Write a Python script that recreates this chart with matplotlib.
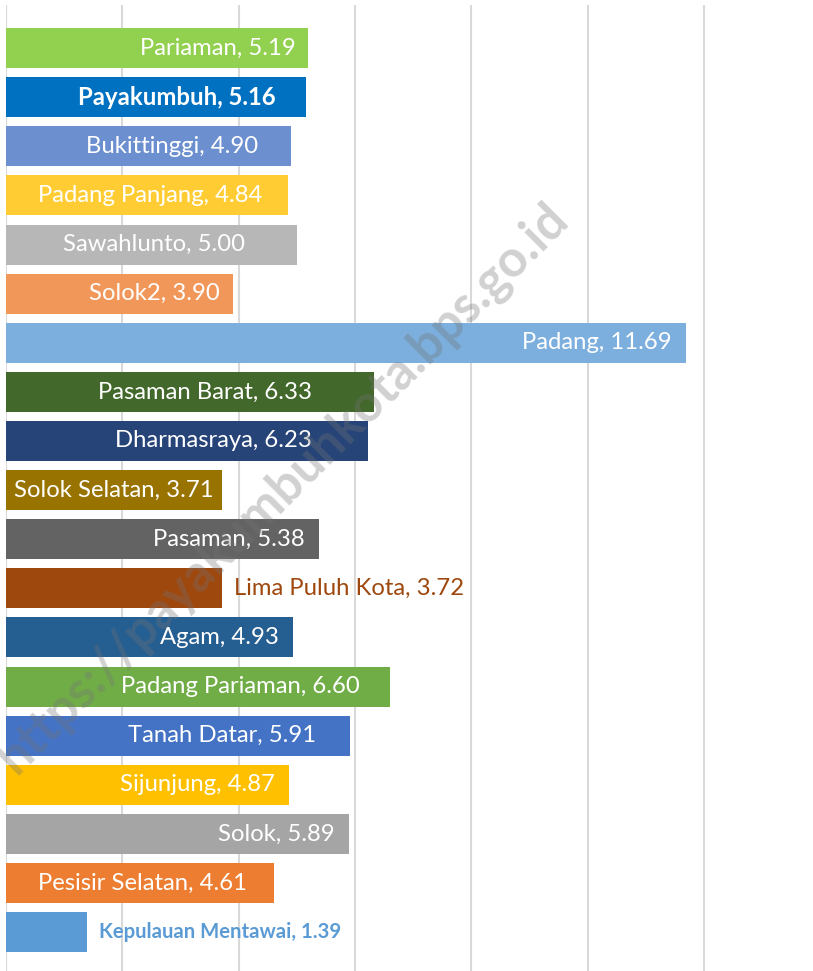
import matplotlib.pyplot as plt

# data, top to bottom as shown
regions = ["Pariaman", "Payakumbuh", "Bukittinggi", "Padang Panjang", "Sawahlunto",
           "Solok2", "Padang", "Pasaman Barat", "Dharmasraya", "Solok Selatan",
           "Pasaman", "Lima Puluh Kota", "Agam", "Padang Pariaman", "Tanah Datar",
           "Sijunjung", "Solok", "Pesisir Selatan", "Kepulauan Mentawai"]
values = [5.19, 5.16, 4.90, 4.84, 5.00, 3.90, 11.69, 6.33, 6.23, 3.71,
          5.38, 3.72, 4.93, 6.60, 5.91, 4.87, 5.89, 4.61, 1.39]

# styling
colors = ["#92D050", "#0070C0", "#6C8FD0", "#FFCD33", "#B7B7B7", "#F1975A", "#7CAFDD",
          "#43682B", "#264478", "#997300", "#636363", "#9E480E", "#255E91", "#70AD47",
          "#4472C4", "#FFC000", "#A5A5A5", "#ED7D31", "#5B9BD5"]
# pixel gap between bar end and label end (None = label outside the bar)
label_pad = [12, 31, 33, 25, 52, 13, 14, 62, 57, 8, 14, None, 14, 30, 34, 14, 14, 27, None]
outside_color = {"Lima Puluh Kota": "#9E480E", "Kepulauan Mentawai": "#5B9BD5"}
bold = {"Payakumbuh", "Kepulauan Mentawai"}

plt.rcParams['font.family'] = ['Lato', 'DejaVu Sans']

W, H = 813, 971
fig = plt.figure(figsize=(W / 100, H / 100), dpi=100)
ax = fig.add_axes([6 / W, 0, (W - 6) / W, 966 / H])

ypos = list(range(len(regions)))
ax.barh(ypos, values, height=0.814, color=colors, zorder=2)

ax.set_xlim(0, (W - 6) / 58.17)
ax.set_ylim(18.79, -0.876)
ax.set_xticks([0, 2, 4, 6, 8, 10, 12])
ax.grid(axis="x", color="#D9D9D9", linewidth=1.5, zorder=0)
ax.tick_params(left=False, bottom=False, labelleft=False, labelbottom=False)
for s in ax.spines.values():
    s.set_visible(False)

for y, name, v, pad in zip(ypos, regions, values, label_pad):
    txt = f"{name}, {v:.2f}"
    weight = "bold" if name in bold else "normal"
    if pad is None:
        ax.annotate(txt, (v, y), xytext=(12, 0), textcoords="offset pixels",
                    ha="left", va="center", fontsize=17.2 if name not in bold else 14.6,
                    color=outside_color[name], fontweight=weight, zorder=3)
    else:
        ax.annotate(txt, (v, y), xytext=(-pad, 0), textcoords="offset pixels",
                    ha="right", va="center", fontsize=17.2, color="white",
                    fontweight=weight, zorder=3)

# watermark
fig.text(283 / W, 1 - 488 / H, "https://payakumbuhkota.bps.go.id", rotation=45,
         ha="center", va="center", fontsize=36.5, fontweight="bold",
         color=(0.45, 0.45, 0.45), alpha=0.33, zorder=10)

fig.savefig("out.png", dpi=100)
